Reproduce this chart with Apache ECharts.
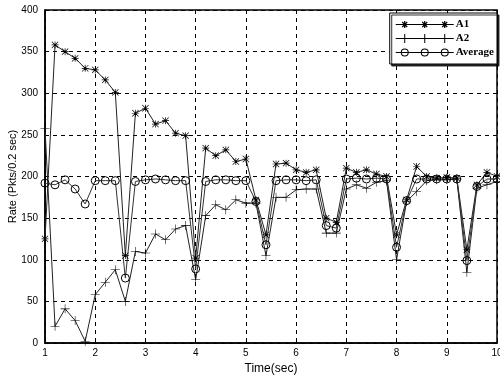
<!DOCTYPE html>
<html>
<head>
<meta charset="utf-8">
<script src="https://cdn.jsdelivr.net/npm/echarts@6/dist/echarts.min.js"></script>
<style>
  html, body { margin: 0; padding: 0; background: #fff; }
  #myLine { width: 500px; height: 381px; }
</style>
</head>
<body>
<div id="myLine"></div>
<script>
// sample times (sec)
var times = [1.0, 1.2, 1.4, 1.6, 1.8, 2.0, 2.2, 2.4, 2.6, 2.8,
             3.0, 3.2, 3.4, 3.6, 3.8, 4.0, 4.2, 4.4, 4.6, 4.8,
             5.0, 5.2, 5.4, 5.6, 5.8, 6.0, 6.2, 6.4, 6.6, 6.8,
             7.0, 7.2, 7.4, 7.6, 7.8, 8.0, 8.2, 8.4, 8.6, 8.8,
             9.0, 9.2, 9.4, 9.6, 9.8, 10.0];
var a1 = [125, 358, 350, 342, 330, 328, 316, 301, 105, 276,
          282, 263, 267, 252, 249, 102, 234, 225, 232, 218,
          221, 172, 130, 215, 216, 208, 205, 208, 150, 145,
          210, 205, 208, 203, 200, 130, 172, 212, 200, 198,
          199, 198, 112, 190, 205, 200];
var a2 = [258, 20, 41, 27, 2, 58, 73, 88, 50, 110,
          108, 131, 124, 137, 141, 76, 153, 166, 160, 172,
          168, 168, 105, 175, 175, 184, 185, 185, 132, 132,
          185, 190, 186, 193, 195, 100, 170, 182, 195, 196,
          196, 197, 85, 186, 190, 194];
var avg = [192, 190, 196, 185, 167, 195, 195, 195, 78, 194,
           196, 197, 196, 195, 195, 89, 194, 196, 196, 195,
           195, 170, 118, 195, 196, 196, 195, 196, 141, 138,
           197, 198, 197, 198, 197, 115, 171, 197, 197, 197,
           197, 197, 99, 188, 197, 197];
var seriesNames = ["A1", "A2", "Average"];
var xTicks = [1, 2, 3, 4, 5, 6, 7, 8, 9, 10];
var yTicks = [0, 50, 100, 150, 200, 250, 300, 350, 400];

function pairs(vals) {
  return times.map(function (t, i) { return [t, vals[i]]; });
}

// marker shapes (all sub paths wound the same way so they fill as a union)
var starPath = "path://M-1,-10L1,-10L1,-1L10,-1L10,1L1,1L1,10L-1,10L-1,1L-10,1L-10,-1L-1,-1Z" +
  "M-8.3,-9.7L9.7,8.3L8.3,9.7L-9.7,-8.3Z M-9.7,8.3L8.3,-9.7L9.7,-8.3L-8.3,9.7Z";
var plusPath = "path://M-0.6,-10L0.6,-10L0.6,-0.6L10,-0.6L10,0.6L0.6,0.6L0.6,10L-0.6,10L-0.6,0.6L-10,0.6L-10,-0.6L-0.6,-0.6Z";

// legend icons: a line with three markers, 58 x 10 box
var W = 58, marks = [9, 29, 49];
function lineBar() { return "M0,4.5L" + W + ",4.5L" + W + ",5.5L0,5.5Z"; }
function rect(x0, y0, x1, y1) {
  return "M" + x0 + "," + y0 + "L" + x1 + "," + y0 + "L" + x1 + "," + y1 + "L" + x0 + "," + y1 + "Z";
}
function iconA1() {
  var p = lineBar();
  marks.forEach(function (c) {
    p += rect(c - 3.5, 4.4, c + 3.5, 5.6) + rect(c - 0.6, 1.5, c + 0.6, 8.5);
    p += "M" + (c - 2.1) + ",2.1L" + (c + 2.9) + ",7.1L" + (c + 2.1) + ",7.9L" + (c - 2.9) + ",2.9Z";
    p += "M" + (c - 2.9) + ",7.1L" + (c + 2.1) + ",2.1L" + (c + 2.9) + ",2.9L" + (c - 2.1) + ",7.9Z";
  });
  return "path://" + p;
}
function iconA2() {
  var p = lineBar();
  marks.forEach(function (c) { p += rect(c - 0.5, 0.5, c + 0.5, 9.5); });
  return "path://" + p;
}
function iconAvg() {
  var p = lineBar();
  marks.forEach(function (c) {
    var r = 4, ri = 3;
    p += "M" + (c + r) + ",5A" + r + "," + r + " 0 1,1 " + (c - r) + ",5A" + r + "," + r + " 0 1,1 " + (c + r) + ",5Z";
    p += "M" + (c + ri) + ",5A" + ri + "," + ri + " 0 1,0 " + (c - ri) + ",5A" + ri + "," + ri + " 0 1,0 " + (c + ri) + ",5Z";
  });
  return "path://" + p;
}

var chart = echarts.init(document.getElementById("myLine"));
chart.setOption({
  animation: false,
  backgroundColor: "#fff",
  grid: {
    left: 45,
    right: 3,
    top: 10,
    bottom: 38,
    outerBoundsMode: "none",
    show: true,
    borderColor: "#000",
    borderWidth: 1.5
  },
  legend: {
    orient: "vertical",
    right: 3,
    top: 13,
    itemWidth: 58,
    itemHeight: 10,
    itemGap: 3,
    padding: [6, 3, 6, 6],
    backgroundColor: "#fff",
    borderColor: "#000",
    borderWidth: 1,
    shadowColor: "rgba(0,0,0,0.8)",
    shadowOffsetX: 2,
    shadowOffsetY: 2,
    textStyle: {
      fontFamily: "Liberation Serif",
      fontWeight: "bold",
      fontSize: 11,
      color: "#000",
      padding: [0, 0, 0, -3]
    },
    data: [
      { name: seriesNames[0], icon: iconA1(), itemStyle: { color: "#000", borderWidth: 0 } },
      { name: seriesNames[1], icon: iconA2(), itemStyle: { color: "#000", borderWidth: 0 } },
      { name: seriesNames[2], icon: iconAvg(), itemStyle: { color: "#000", borderWidth: 0 } }
    ]
  },
  xAxis: {
    type: "value",
    min: xTicks[0],
    max: xTicks[xTicks.length - 1],
    interval: 1,
    name: "Time(sec)",
    nameLocation: "middle",
    nameGap: 20,
    nameTextStyle: { fontFamily: "Liberation Sans", fontSize: 12, color: "#000" },
    axisLine: { lineStyle: { color: "#000", width: 1.5 } },
    axisTick: { inside: true, length: 4, lineStyle: { color: "#000" } },
    axisLabel: { fontFamily: "Liberation Sans", fontSize: 10, color: "#000", margin: 5 },
    splitLine: {
      show: true,
      lineStyle: { color: "#000", type: [4, 4], width: 1 }
    }
  },
  yAxis: {
    type: "value",
    min: yTicks[0],
    max: yTicks[yTicks.length - 1],
    interval: 50,
    name: "Rate (Pkts/0.2 sec)",
    nameLocation: "middle",
    nameGap: 27,
    nameMoveOverlap: false,
    nameTextStyle: { fontFamily: "Liberation Sans", fontSize: 11, color: "#000" },
    axisLine: { show: true, lineStyle: { color: "#000", width: 1.5 } },
    axisTick: { show: true, inside: true, length: 4, lineStyle: { color: "#000" } },
    axisLabel: { fontFamily: "Liberation Sans", fontSize: 10, color: "#000", margin: 7 },
    splitLine: {
      show: true,
      lineStyle: { color: "#000", type: [4, 4], width: 1 }
    }
  },
  series: [
    {
      name: seriesNames[0],
      type: "line",
      data: pairs(a1),
      symbol: starPath,
      symbolSize: 7,
      lineStyle: { color: "#222", width: 1 },
      itemStyle: { color: "#000" }
    },
    {
      name: seriesNames[1],
      type: "line",
      data: pairs(a2),
      symbol: plusPath,
      symbolSize: 9,
      lineStyle: { color: "#222", width: 1 },
      itemStyle: { color: "#000" }
    },
    {
      name: seriesNames[2],
      type: "line",
      data: pairs(avg),
      symbol: "circle",
      symbolSize: 8,
      lineStyle: { color: "#333", width: 1 },
      itemStyle: { color: "rgba(0,0,0,0)", borderColor: "#000", borderWidth: 1 }
    }
  ]
});
</script>
</body>
</html>
